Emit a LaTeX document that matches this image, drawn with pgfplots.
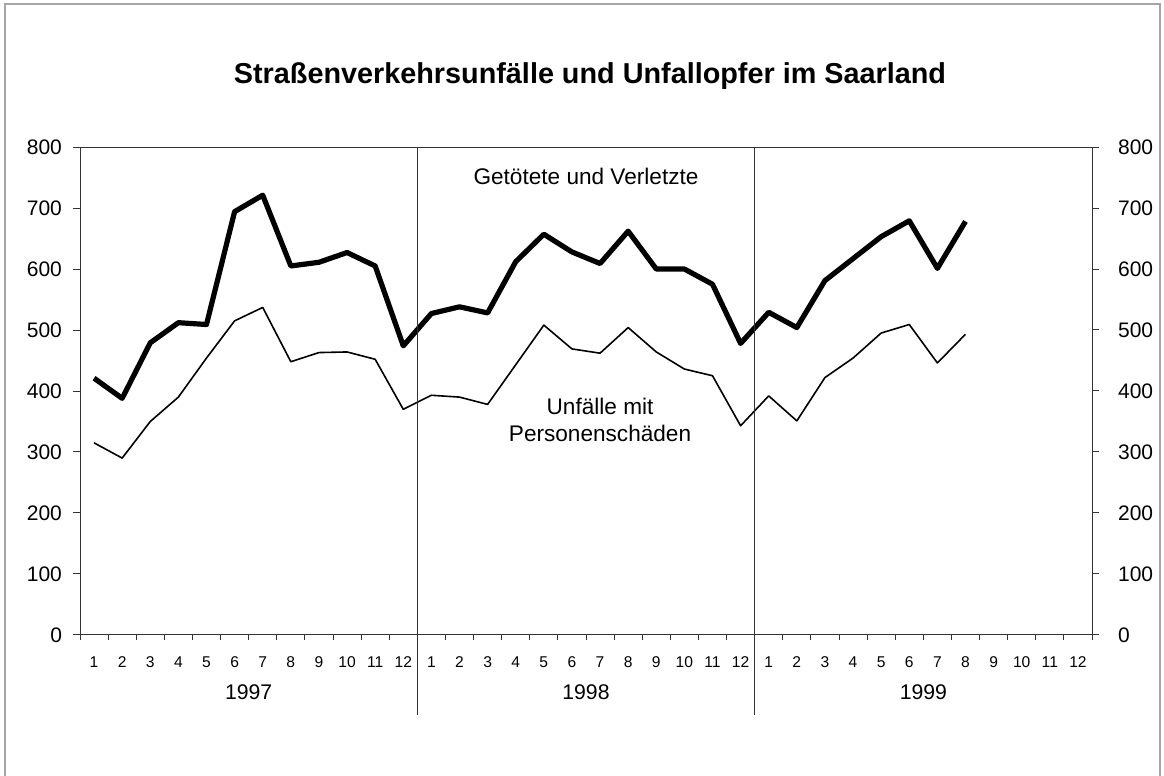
\documentclass[border=0pt]{standalone}
\usepackage{pgfplots}
\pgfplotsset{compat=1.18}
\usepackage{fontspec}
\setmainfont{Liberation Sans}
\pgfplotstableread{
x thick thin
1 421 315
2 388 290
3 479 350
4 512 390
5 509 454
6 694 515
7 721 537
8 605 448
9 611 463
10 627 464
11 605 452
12 474 370
13 527 393
14 538 390
15 528 378
16 612 443
17 657 508
18 628 469
19 609 462
20 662 504
21 600 464
22 600 436
23 575 425
24 478 343
25 529 392
26 504 351
27 581 422
28 617 454
29 653 495
30 679 509
31 601 446
32 678 493
}\data
\begin{document}
\begin{tikzpicture}[x=1pt,y=1pt]
\useasboundingbox (0,0) rectangle (582,388);
\draw[gray!70,line width=0.6pt] (2.5,0) -- (2.5,386) -- (580,386) -- (580,0);
\node[font=\fontsize{14.4}{16}\selectfont\bfseries] at (295,350) {Straßenverkehrsunfälle und Unfallopfer im Saarland};
\begin{axis}[
  at={(40pt,70.5pt)}, anchor=south west,
  scale only axis, width=506pt, height=244pt,
  xmin=0.5, xmax=36.5, ymin=0, ymax=800,
  clip=false,
  axis line style={black!80, line width=0.5pt},
  xtick={1,...,36},
  xticklabels={1,2,3,4,5,6,7,8,9,10,11,12,1,2,3,4,5,6,7,8,9,10,11,12,1,2,3,4,5,6,7,8,9,10,11,12},
  minor xtick={0.5,1.5,...,36.5},
  major x tick style={draw=none},
  minor x tick style={black!80, line width=0.5pt},
  minor tick length=2.5pt,
  major tick length=3.5pt,
  tick align=outside,
  xtick pos=bottom,
  ytick={0,100,...,800},
  ytick pos=left,
  y tick style={black!80, line width=0.5pt},
  xticklabel style={font=\fontsize{7.8}{9}\selectfont, yshift=-4pt},
  yticklabel style={font=\fontsize{10.5}{12}\selectfont, xshift=-2pt},
  /pgf/number format/assume math mode=true,
]
\addplot[black, line width=2.6pt, line join=round] table[x=x,y=thick] {\data};
\addplot[black, line width=0.8pt, line join=round] table[x=x,y=thin] {\data};
\draw[black!80, line width=0.5pt] (axis cs:12.5,800) -- (axis cs:12.5,-131);
\draw[black!80, line width=0.5pt] (axis cs:24.5,800) -- (axis cs:24.5,-131);
\node[font=\fontsize{10.6}{12}\selectfont] at (axis cs:6.5,-93) {1997};
\node[font=\fontsize{10.6}{12}\selectfont] at (axis cs:18.5,-93) {1998};
\node[font=\fontsize{10.6}{12}\selectfont] at (axis cs:30.5,-93) {1999};
\node[font=\fontsize{11.3}{13.5}\selectfont] at (axis cs:18.5,752) {Getötete und Verletzte};
\node[font=\fontsize{11.3}{13.5}\selectfont, align=center] at (axis cs:19.0,352) {Unfälle mit\\Personenschäden};
\end{axis}
\begin{axis}[
  at={(40pt,70.5pt)}, anchor=south west,
  scale only axis, width=506pt, height=244pt,
  xmin=0.5, xmax=36.5, ymin=0, ymax=800,
  hide x axis,
  axis y line*=right,
  axis line style={black!80, line width=0.5pt},
  ytick={0,100,...,800},
  tick align=outside,
  major tick length=3.5pt,
  y tick style={black!80, line width=0.5pt},
  yticklabel style={font=\fontsize{10.5}{12}\selectfont, xshift=6pt},
  /pgf/number format/assume math mode=true,
]
\end{axis}
\end{tikzpicture}
\end{document}
